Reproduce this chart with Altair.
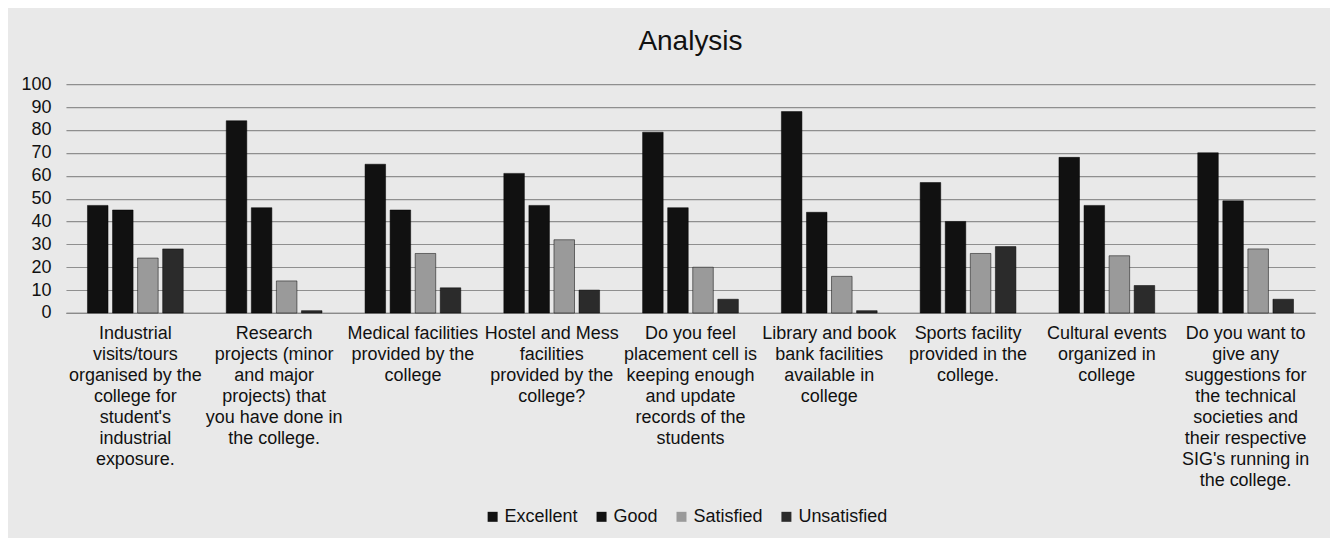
import altair as alt
import pandas as pd

categories = [
    "Industrial|visits/tours|organised by the|college for|student's|industrial|exposure.",
    "Research|projects (minor|and major|projects) that|you have done in|the college.",
    "Medical facilities|provided by the|college",
    "Hostel and Mess|facilities|provided by the|college?",
    "Do you feel|placement cell is|keeping enough|and update|records of the|students",
    "Library and book|bank facilities|available in|college",
    "Sports facility|provided in the|college.",
    "Cultural events|organized in|college",
    "Do you want to|give any|suggestions for|the technical|societies and|their respective|SIG's running in|the college.",
]
series = ["Excellent", "Good", "Satisfied", "Unsatisfied"]
excellent = [47, 84, 65, 61, 79, 88, 57, 68, 70]
good = [45, 46, 45, 47, 46, 44, 40, 47, 49]
satisfied = [24, 14, 26, 32, 20, 16, 26, 25, 28]
unsatisfied = [28, 1, 11, 10, 6, 1, 29, 12, 6]
colors = ["#111111", "#111111", "#9a9a9a", "#2b2b2b"]

rows = []
for s, vals in zip(series, [excellent, good, satisfied, unsatisfied]):
    for c, v in zip(categories, vals):
        rows.append({"category": c, "series": s, "value": v})
df = pd.DataFrame(rows)

FONT = "Liberation Sans"

chart = alt.Chart(df).mark_bar(stroke="#000000", strokeWidth=0.5).encode(
    x=alt.X("category:N", sort=categories, title=None,
            scale=alt.Scale(paddingInner=0.31, paddingOuter=0.155),
            axis=alt.Axis(labelAngle=0, labelLimit=0, labelFontSize=18,
                          labelFont=FONT, labelColor="#111111",
                          labelExpr="split(datum.label, '|')",
                          labelLineHeight=21, labelPadding=12,
                          ticks=False, domainColor="#8a8a8a", domainWidth=1.2,
                          labelBaseline="top")),
    xOffset=alt.XOffset("series:N", sort=series,
                        scale=alt.Scale(paddingInner=0.18)),
    y=alt.Y("value:Q", title=None,
            scale=alt.Scale(domain=[0, 100], nice=False),
            axis=alt.Axis(values=list(range(0, 101, 10)), labelFontSize=18,
                          labelFont=FONT, labelColor="#111111",
                          ticks=False, domain=False, gridColor="#8f8f8f",
                          gridWidth=1.2, labelPadding=15)),
    color=alt.Color("series:N", sort=series,
                    scale=alt.Scale(domain=series, range=colors),
                    legend=alt.Legend(orient="none", direction="horizontal",
                                      legendX=418, legendY=424, title=None,
                                      symbolType="square", symbolSize=100,
                                      symbolStrokeWidth=0,
                                      labelFontSize=18, labelFont=FONT,
                                      labelColor="#111111", columnPadding=14,
                                      labelOffset=3)),
).properties(
    width=1250, height=229,
    title=alt.TitleParams("Analysis", fontSize=28, font=FONT,
                          fontWeight="normal", color="#111111", offset=19),
    background="#e9e9e9",
    padding={"left": 12, "top": 20, "right": 15, "bottom": 12},
).configure_view(stroke=None)

chart.save("out.html", embed_options={"renderer": "svg", "actions": False})
